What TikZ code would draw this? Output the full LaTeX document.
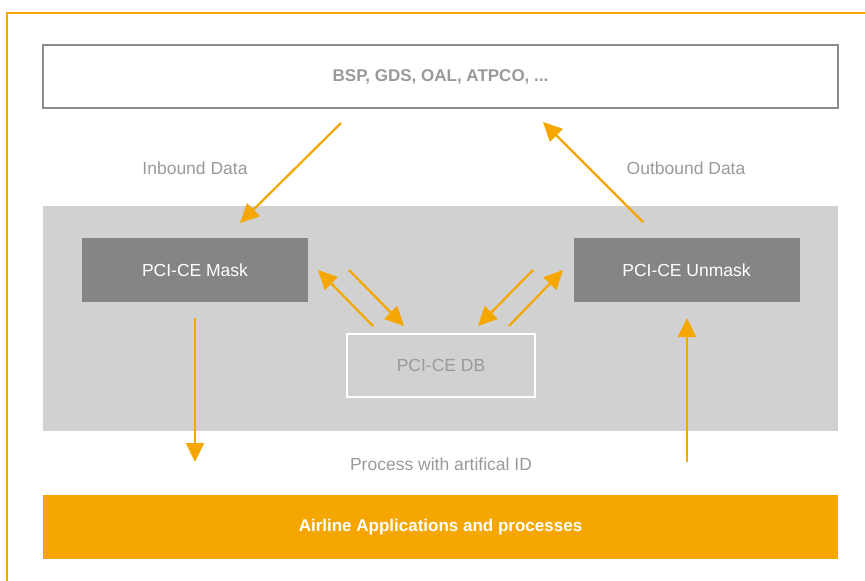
\documentclass[tikz,border=0pt]{standalone}
\usepackage{fontspec}
\setmainfont{Liberation Sans}
\usetikzlibrary{arrows.meta}
\definecolor{aorange}{HTML}{F5A600}
\definecolor{bandgray}{HTML}{D1D1D1}
\definecolor{boxgray}{HTML}{858585}
\definecolor{linegray}{HTML}{8C8C8C}
\definecolor{textgray}{HTML}{999999}
\begin{document}
\begin{tikzpicture}[x=1pt,y=-1pt]
      \tikzstyle{every node}+=[inner sep=0pt, font=\fontsize{17.5}{21}\selectfont]
      \tikzstyle{flow}=[aorange, line width=2.2pt, -{Triangle[length=19pt,width=18pt]}]
      \tikzstyle{unit}=[fill=boxgray, text=white, minimum width=226pt, minimum height=64pt]
      \tikzstyle{lbl}=[text=textgray]
      \useasboundingbox (0,0) rectangle (865,581);
      \clip (0,0) rectangle (865,581);
      \draw [aorange, line width=2pt] (7,13) rectangle (890,600);
      \node [draw=linegray, line width=2pt, minimum width=795pt, minimum height=63pt,
        text=textgray, font=\fontsize{17}{21}\selectfont\bfseries] (src) at (440.5,76.5) {BSP, GDS, OAL, ATPCO, ...};
      \node [fill=bandgray, minimum width=795pt, minimum height=225pt] (band) at (440.5,318.5) {};
      \node [unit] (mask) at (195,270) {PCI-CE Mask};
      \node [unit] (unmask) at (686.5,270) {PCI-CE Unmask};
      \node [draw=white, line width=2pt, fill=bandgray, text=textgray,
        minimum width=188pt, minimum height=63pt] (db) at (441,365.5) {PCI-CE DB};
      \node [fill=aorange, text=white, minimum width=795pt, minimum height=64pt,
        font=\fontsize{17}{21}\selectfont\bfseries] (app) at (440.5,527) {Airline Applications and processes};
      \node [lbl] (inb) at (195,168) {Inbound Data};
      \node [lbl] (outb) at (686,168) {Outbound Data};
      \node [lbl] (proc) at (441,464) {Process with artifical ID};
      % arrow ends
      \coordinate (inS) at (341,123);
      \coordinate (inE) at (240,223);
      \coordinate (outS) at (643,222);
      \coordinate (outE) at (543,122);
      \coordinate (dnS) at (195,318);
      \coordinate (dnE) at (195,462);
      \coordinate (upS) at (687,462);
      \coordinate (upE) at (687,318);
      \coordinate (m1S) at (373,326);
      \coordinate (m1E) at (318,270);
      \coordinate (m2S) at (349,270);
      \coordinate (m2E) at (404,326);
      \coordinate (u1S) at (533,270);
      \coordinate (u1E) at (478,326);
      \coordinate (u2S) at (509,326);
      \coordinate (u2E) at (563,270);
      \draw [flow] (inS) -- (inE);
      \draw [flow] (outS) -- (outE);
      \draw [flow] (dnS) -- (dnE);
      \draw [flow] (upS) -- (upE);
      \draw [flow] (m1S) -- (m1E);
      \draw [flow] (m2S) -- (m2E);
      \draw [flow] (u1S) -- (u1E);
      \draw [flow] (u2S) -- (u2E);
    \end{tikzpicture}
\end{document}
